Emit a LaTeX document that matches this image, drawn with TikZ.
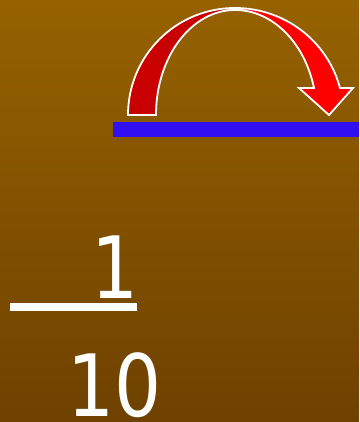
\documentclass[tikz,border=0pt]{standalone}
\usepackage{fontspec}
\newfontfamily\digitfont[FakeStretch=0.86]{DejaVu Sans}
\definecolor{bgtop}{RGB}{150,98,0}
\definecolor{bgbot}{RGB}{110,65,0}
\definecolor{darkred}{RGB}{200,0,0}
\definecolor{brightred}{RGB}{255,0,0}
\definecolor{barblue}{RGB}{48,16,240}
\tikzset{
  arrowpart/.style={draw=white, line width=1.8pt, line join=miter},
  digits/.style={text=white, inner sep=0pt, font=\digitfont\fontsize{86}{86}\selectfont}
}
\begin{document}
\begin{tikzpicture}[x=1pt,y=1pt]
\useasboundingbox (0,0) rectangle (359,-422);
\shade[top color=bgtop, bottom color=bgbot] (0,0) rectangle (359,-422);
% blue bar
\fill[barblue] (113,-122) rectangle (359,-137);
% right half of the arrow
\draw[arrowpart, fill=brightred] (235,-8) arc[start angle=90, end angle=14.6, x radius=108.5pt, y radius=107pt]
  -- (353,-88) -- (329,-115) -- (299,-88) -- (314,-88)
  arc[start angle=14.9, end angle=90, x radius=81.7pt, y radius=105pt] -- cycle;
% left half of the arrow
\draw[arrowpart, fill=darkred] (128,-115) arc[start angle=180, end angle=90, x radius=107pt, y radius=107pt]
  -- (235,-10) arc[start angle=90, end angle=180, x radius=79pt, y radius=105pt] -- cycle;
% fraction
\node[digits, anchor=base west] (num) at (91,-298) {1};
\fill[white] (10,-303) rectangle (137,-311);
\node[digits, anchor=base west] (den) at (67,-416) {10};
\end{tikzpicture}
\end{document}
